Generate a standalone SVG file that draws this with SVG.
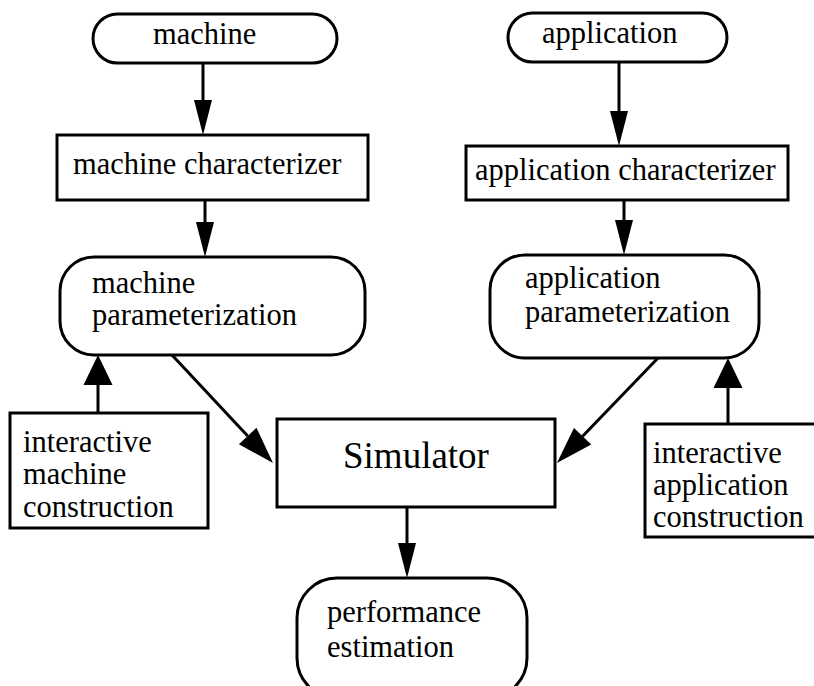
<svg xmlns="http://www.w3.org/2000/svg" width="814" height="686" viewBox="0 0 814 686">
<style>
.box{fill:#fff;stroke:#000;stroke-width:3}
.t{font-family:"Liberation Serif","Times New Roman",serif;font-size:30.5px;fill:#000}
.big{font-size:37px}
.c{stroke:#000;stroke-width:3;fill:none}
</style>
<defs>
<marker id="ah" markerUnits="userSpaceOnUse" markerWidth="36" markerHeight="20" refX="0" refY="9" orient="auto" overflow="visible">
<path d="M0,0 L35,9 L0,18 Z" fill="#000"/>
</marker>
<marker id="ahd" markerUnits="userSpaceOnUse" markerWidth="38" markerHeight="26" refX="0" refY="12" orient="auto" overflow="visible">
<path d="M0,0 L37,12 L0,24 Z" fill="#000"/>
</marker>
<marker id="ahu" markerUnits="userSpaceOnUse" markerWidth="31" markerHeight="30" refX="0" refY="14.5" orient="auto" overflow="visible">
<path d="M0,0 L30,14.5 L0,29 Z" fill="#000"/>
</marker>
</defs>
<rect width="814" height="686" fill="#fff"/>
<g id="connectors">
<line class="c" x1="203" y1="63" x2="203" y2="100" marker-end="url(#ah)"/>
<line class="c" x1="619" y1="62" x2="619" y2="111" marker-end="url(#ah)"/>
<line class="c" x1="205" y1="200" x2="205" y2="222" marker-end="url(#ah)"/>
<line class="c" x1="624" y1="200" x2="624" y2="220" marker-end="url(#ah)"/>
<line class="c" x1="407" y1="507" x2="407" y2="543" marker-end="url(#ah)"/>
<line class="c" x1="172" y1="355" x2="247.7" y2="436" marker-end="url(#ahd)"/>
<line class="c" x1="658" y1="358" x2="582.6" y2="436.3" marker-end="url(#ahd)"/>
<line class="c" x1="98" y1="413" x2="98" y2="385" marker-end="url(#ahu)"/>
<line class="c" x1="728" y1="423" x2="728" y2="388" marker-end="url(#ahu)"/>
</g>
<g id="machine">
<rect class="box" x="93" y="14" width="244" height="49" rx="24.5"/>
<text class="t" x="153" y="44">machine</text>
</g>
<g id="application">
<rect class="box" x="508" y="13" width="219" height="49" rx="24.5"/>
<text class="t" x="542" y="43">application</text>
</g>
<g id="machine-characterizer">
<rect class="box" x="57" y="135" width="311" height="65"/>
<text class="t" x="73" y="174">machine characterizer</text>
</g>
<g id="application-characterizer">
<rect class="box" x="466" y="146" width="322" height="54"/>
<text class="t" x="475" y="180">application characterizer</text>
</g>
<g id="machine-parameterization">
<rect class="box" x="60" y="257" width="305" height="98" rx="34"/>
<text class="t" x="92" y="293">machine</text>
<text class="t" x="92" y="325">parameterization</text>
</g>
<g id="application-parameterization">
<rect class="box" x="490" y="255" width="269" height="103" rx="35"/>
<text class="t" x="525" y="288">application</text>
<text class="t" x="525" y="322">parameterization</text>
</g>
<g id="interactive-machine-construction">
<rect class="box" x="10" y="413" width="198" height="115"/>
<text class="t" x="23" y="452">interactive</text>
<text class="t" x="23" y="484">machine</text>
<text class="t" x="23" y="517">construction</text>
</g>
<g id="simulator">
<rect class="box" x="277" y="419" width="278" height="88"/>
<text class="t big" x="343" y="468">Simulator</text>
</g>
<g id="interactive-application-construction">
<rect class="box" x="645" y="424" width="190" height="113"/>
<text class="t" x="653" y="463">interactive</text>
<text class="t" x="653" y="495">application</text>
<text class="t" x="653" y="527">construction</text>
</g>
<g id="performance-estimation">
<rect class="box" x="297" y="578" width="230" height="120" rx="40"/>
<text class="t" x="327" y="622">performance</text>
<text class="t" x="327" y="657">estimation</text>
</g>
</svg>
